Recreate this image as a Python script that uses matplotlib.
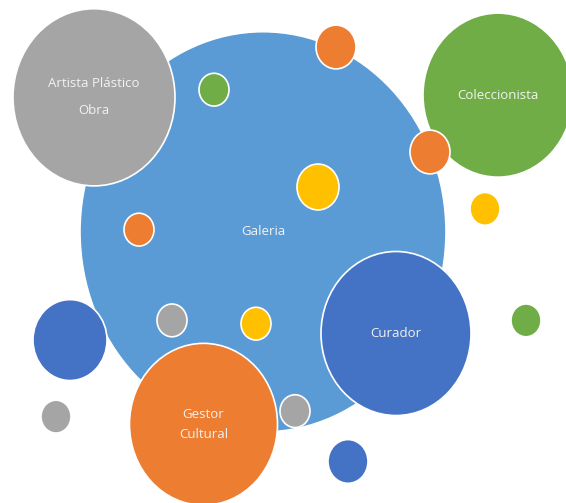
import matplotlib
matplotlib.use("Agg")
import matplotlib.pyplot as plt
from matplotlib.patches import Ellipse

# bubble data (x, y, radius) and labels
labels = ["Galeria", "Artista Plástico\nObra", "Coleccionista", "Curador", "Gestor\nCultural",
          "", "", "", "", "", "", "", "", "", "", "", "", ""]
xs = [26.3, 9.4, 49.8, 39.6, 20.35, 7.0, 21.4, 33.6, 43.0, 31.8, 48.5, 13.9, 17.2, 25.6, 5.6, 29.5, 52.6, 34.8]
ys = [24.8, 37.1, 37.3, 15.5, 7.2, 14.9, 37.8, 41.7, 32.1, 28.9, 26.9, 25.0, 16.7, 16.4, 7.9, 8.4, 16.7, 3.8]
rs = [18.3, 8.1, 7.5, 7.5, 7.4, 3.7, 1.5, 2.0, 2.0, 2.1, 1.5, 1.5, 1.5, 1.5, 1.5, 1.5, 1.5, 2.0]

blue = "#5B9BD5"
orange = "#ED7D31"
gray = "#A5A5A5"
yellow = "#FFC000"
dblue = "#4472C4"
green = "#70AD47"
colors = [blue, gray, green, dblue, orange, dblue, green, orange, orange, yellow,
          yellow, orange, gray, yellow, gray, gray, green, dblue]
spacing = [1.2, 2.4, 1.2, 1.2, 1.65] + [1.2] * 13

fig = plt.figure(figsize=(5.66, 5.03), dpi=100)
ax = fig.add_axes([0, 0, 1, 1])
ax.set_xlim(0, 56.6)
ax.set_ylim(0, 46)
ax.axis("off")

for x, y, r, c, lab, ls in zip(xs, ys, rs, colors, labels, spacing):
    ax.add_patch(Ellipse((x, y), 2 * r, 2 * r, facecolor=c, edgecolor="white", linewidth=1.2))
    if lab:
        ax.text(x, y, lab, ha="center", va="center", color="#F2F2F2", fontsize=9.5,
                family="Open Sans", linespacing=ls)

fig.savefig("out.png", dpi=100)
